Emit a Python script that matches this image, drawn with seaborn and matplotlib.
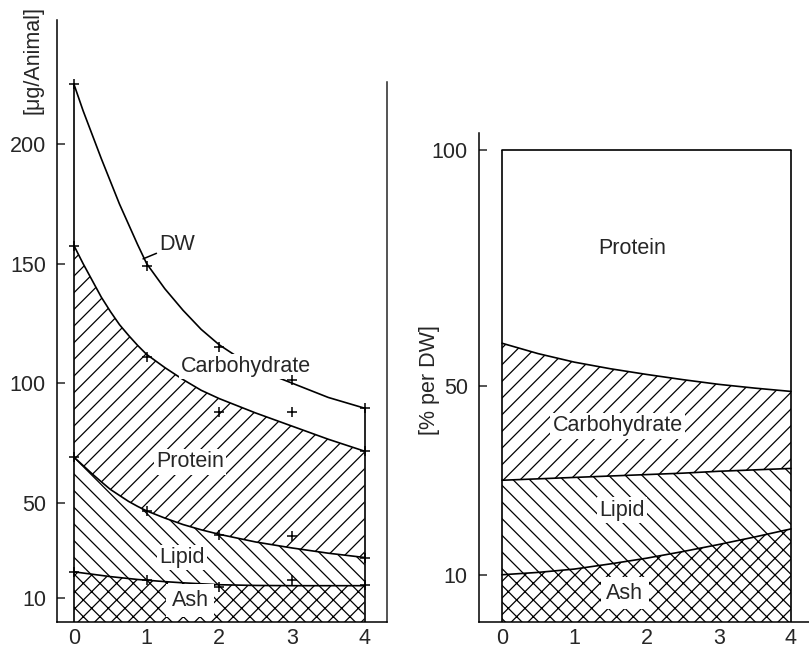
import matplotlib
matplotlib.use("Agg")
import matplotlib.pyplot as plt
import seaborn as sns

# left panel: absolute amounts [ug/Animal], curves read along the x grid
days_abs = [0, 0.125, 0.25, 0.375, 0.5, 0.625, 0.75, 0.875, 1,
            1.25, 1.5, 1.75, 2, 2.5, 3, 3.5, 4]
dw_curve = [225, 214, 204, 194, 184.5, 175, 166.5, 158, 150,
            139.5, 130.5, 122.5, 116, 106, 100, 94, 89.5]
protein_top = [157.5, 150, 143, 136, 130, 124.5, 120, 115.8, 112,
               106.5, 101.5, 97, 93.5, 87.5, 82, 76.5, 71.5]
lipid_top = [69, 65.5, 62, 58.7, 55.5, 53, 50.5, 48.4, 46.5,
             43.5, 40.8, 38.6, 36.7, 33.5, 31, 28.8, 27]
ash_top = [21, 20.5, 20, 19.5, 19, 18.6, 18.2, 17.8, 17.5,
           16.9, 16.4, 16, 15.6, 15.3, 15.2, 15.2, 15.2]

# measured points (+)
days_pts = [0, 1, 2, 3, 4]
dw_pts = [225, 149, 115, 101.5, 89.5]
protein_pts = [157.5, 111, 88, 88, 71.5]
lipid_pts = [69, 46.5, 36.5, 36, 27]
ash_pts = [21, 17.5, 14.7, 17.5, 15.5]

# right panel: percent of dry weight
days_pct = [0, 0.5, 1, 1.5, 2, 2.5, 3, 3.5, 4]
carb_top_pct = [59, 56.8, 55, 53.6, 52.4, 51.3, 50.3, 49.5, 48.8]
lipid_top_pct = [30, 30.3, 30.6, 30.9, 31.2, 31.5, 31.9, 32.2, 32.5]
ash_top_pct = [10, 10.5, 11.2, 12.3, 13.5, 14.9, 16.4, 18, 19.7]
total_pct = [100] * len(days_pct)

sns.set_theme(style="white")
plt.rcParams['font.family'] = ['Liberation Sans', 'DejaVu Sans']
plt.rcParams['hatch.linewidth'] = 0.9
plt.rcParams['axes.linewidth'] = 1.1

fig = plt.figure(figsize=(8.09, 6.49), dpi=100)
ax1 = fig.add_axes([0.0705, 0.0416, 0.408, 0.9276])
ax2 = fig.add_axes([0.592, 0.0416, 0.408, 0.7535])

FS = 15.5

# ---- left panel ----
ax1.fill_between(days_abs, 0, ash_top, facecolor='white', edgecolor='black',
                 hatch='xx', linewidth=0)
ax1.fill_between(days_abs, ash_top, lipid_top, facecolor='white', edgecolor='black',
                 hatch='\\\\', linewidth=0)
ax1.fill_between(days_abs, lipid_top, protein_top, facecolor='white', edgecolor='black',
                 hatch='//', linewidth=0)
for curve in [dw_curve, protein_top, lipid_top, ash_top]:
    sns.lineplot(x=days_abs, y=curve, color='black', linewidth=1.2, ax=ax1)
for pts in [dw_pts, protein_pts, lipid_pts, ash_pts]:
    sns.scatterplot(x=days_pts, y=pts, marker='+', color='black', s=60,
                    linewidth=1.1, ax=ax1, zorder=5)
ax1.vlines([days_abs[0], days_abs[-1]], 0, [dw_curve[0], dw_curve[-1]],
           color='black', linewidth=1.2)

box = dict(facecolor='white', edgecolor='none', pad=1.5)
ax1.text(2.37, 107, "Carbohydrate", fontsize=FS, ha='center', va='center', bbox=box)
ax1.text(1.6, 67, "Protein", fontsize=FS, ha='center', va='center', bbox=box)
ax1.text(1.49, 27, "Lipid", fontsize=FS, ha='center', va='center', bbox=box)
ax1.text(1.6, 9, "Ash", fontsize=FS, ha='center', va='center',
         bbox=dict(facecolor='white', edgecolor='none', pad=4))
ax1.annotate("DW", xy=(0.95, 152), xytext=(1.18, 158), fontsize=FS, va='center',
             arrowprops=dict(arrowstyle='-', color='black', lw=1.1,
                             shrinkA=0, shrinkB=0))

ax1.set_xlim(-0.234, 4.31)
ax1.set_ylim(0, 252)
ax1.set_xticks([0, 1, 2, 3, 4])
ax1.set_yticks([10, 50, 100, 150, 200])
ax1.spines['top'].set_visible(False)
ax1.spines['right'].set_bounds(0, 226)

# ---- right panel ----
ax2.fill_between(days_pct, 0, ash_top_pct, facecolor='white', edgecolor='black',
                 hatch='xx', linewidth=0)
ax2.fill_between(days_pct, ash_top_pct, lipid_top_pct, facecolor='white',
                 edgecolor='black', hatch='\\\\', linewidth=0)
ax2.fill_between(days_pct, lipid_top_pct, carb_top_pct, facecolor='white',
                 edgecolor='black', hatch='//', linewidth=0)
for curve in [total_pct, carb_top_pct, lipid_top_pct, ash_top_pct]:
    sns.lineplot(x=days_pct, y=curve, color='black', linewidth=1.2, ax=ax2)
ax2.vlines([days_pct[0], days_pct[-1]], 0, 100, color='black', linewidth=1.2)

ax2.text(1.8, 79, "Protein", fontsize=FS, ha='center', va='center')
ax2.text(1.6, 41.5, "Carbohydrate", fontsize=FS, ha='center', va='center', bbox=box)
ax2.text(1.66, 23.7, "Lipid", fontsize=FS, ha='center', va='center', bbox=box)
ax2.text(1.7, 6.1, "Ash", fontsize=FS, ha='center', va='center',
         bbox=dict(facecolor='white', edgecolor='none', pad=4))

ax2.set_xlim(-0.32, 4.25)
ax2.set_ylim(0, 103.5)
ax2.set_xticks([0, 1, 2, 3, 4])
ax2.set_yticks([10, 50, 100])
ax2.spines['top'].set_visible(False)
ax2.spines['right'].set_visible(False)

for ax in (ax1, ax2):
    for s in ('left', 'bottom'):
        ax.spines[s].set_color('black')
    ax.tick_params(axis='y', direction='in', length=6, width=1.1, labelsize=FS,
                   pad=8, left=True)
    ax.tick_params(axis='x', length=0, labelsize=FS, pad=4)
    ax.set_xlabel("")
    ax.set_ylabel("")

fig.text(33 / 809, 1 - 60 / 649, "[μg/Animal]", rotation=90, fontsize=FS,
         ha='center', va='center')
fig.text(430 / 809, 1 - 380 / 649, "[% per DW]", rotation=90, fontsize=FS,
         ha='center', va='center')

fig.savefig("out.png", dpi=100)
